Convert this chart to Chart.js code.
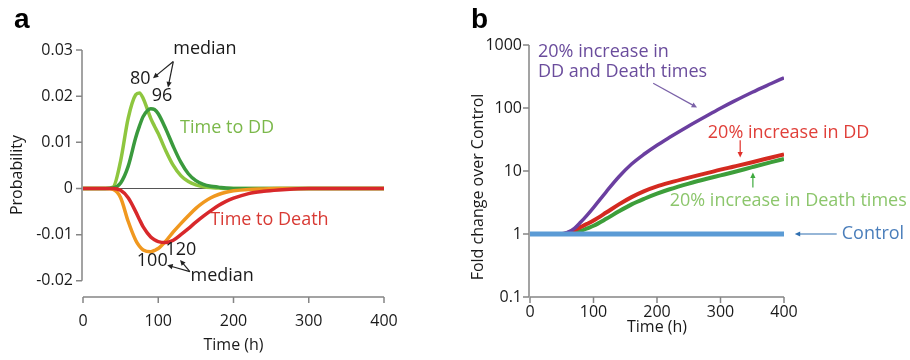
<!DOCTYPE html>
<html>
<head>
<meta charset="utf-8">
<script src="https://cdn.jsdelivr.net/npm/chart.js@4/dist/chart.umd.min.js"></script>
<style>
  body { margin: 0; background: #fff; }
  #wrap { position: relative; width: 910px; height: 360px; }
  canvas { position: absolute; top: 0; }
  #chartA { left: 0; }
  #chartB { left: 455px; }
</style>
</head>
<body>
<div id="wrap">
  <canvas id="chartA" width="455" height="360"></canvas>
  <canvas id="chartB" width="455" height="360"></canvas>
</div>
<script>
// ---- panel a: probability densities ----
const timeA = [0, 20, 30, 40, 50, 60, 70, 75, 80, 90, 95, 100, 110, 120, 130, 140, 150, 160, 170, 180, 190, 200, 220, 240, 260, 280, 300, 350, 400];
const ddControl = [0, 0, 0, 0.0003, 0.006, 0.0152, 0.0203, 0.0207, 0.0195, 0.0152, 0.0135, 0.0119, 0.0082, 0.005, 0.0028, 0.0015, 0.0008, 0.0004, 0.0002, 0.0001, 0, 0, 0, 0, 0, 0, 0, 0, 0];
const ddLonger = [0, 0, 0, 0.0001, 0.0012, 0.0048, 0.011, 0.0135, 0.0156, 0.0173, 0.0171, 0.0162, 0.0129, 0.0091, 0.0057, 0.0032, 0.0017, 0.0009, 0.0005, 0.0003, 0.0001, 0, 0, 0, 0, 0, 0, 0, 0];
const deathControl = [0, 0, 0, -0.0002, -0.002, -0.0071, -0.0112, -0.0125, -0.0133, -0.0137, -0.0134, -0.013, -0.0114, -0.0094, -0.0076, -0.0059, -0.0043, -0.003, -0.002, -0.0013, -0.0008, -0.0005, -0.0002, -0.0001, 0, 0, 0, 0, 0];
const deathLonger = [0, 0, 0, 0, -0.0004, -0.002, -0.005, -0.0067, -0.0083, -0.0105, -0.0111, -0.0115, -0.0117, -0.0112, -0.01, -0.0087, -0.0073, -0.006, -0.0048, -0.0037, -0.0028, -0.0021, -0.0011, -0.0006, -0.0003, -0.0001, 0, 0, 0];
const xTicks = [0, 100, 200, 300, 400];
const yTicksA = [-0.02, -0.01, 0, 0.01, 0.02, 0.03];

// ---- panel b: fold change over control ----
const timeB = [0, 50, 60, 70, 80, 90, 100, 120, 140, 160, 180, 200, 220, 250, 280, 300, 320, 350, 380, 400];
const bothLonger = [1, 1, 1.07, 1.23, 1.55, 2.0, 2.63, 4.68, 8.1, 12.9, 18.6, 25.7, 34.3, 51.9, 76.7, 98.9, 126, 178, 245, 302];
const ddOnly = [1, 1, 1.05, 1.15, 1.29, 1.45, 1.64, 2.19, 2.95, 3.85, 4.79, 5.69, 6.53, 7.85, 9.33, 10.5, 11.7, 13.8, 16.4, 18.4];
const deathOnly = [1, 1, 1, 1.05, 1.12, 1.23, 1.35, 1.74, 2.29, 2.95, 3.63, 4.37, 5.13, 6.31, 7.59, 8.51, 9.55, 11.5, 13.8, 15.5];
const control = [1, 1, 1, 1, 1, 1, 1, 1, 1, 1, 1, 1, 1, 1, 1, 1, 1, 1, 1, 1];
const yTicksB = [0.1, 1, 10, 100, 1000];

const FONT = '"Open Sans", sans-serif';
Chart.defaults.font.family = FONT;
Chart.defaults.color = '#1a1a1a';

const pts = (xs, ys) => xs.map((x, i) => ({ x: x, y: ys[i] }));

function drawArrow(ctx, x1, y1, x2, y2, color) {
    const a = Math.atan2(y2 - y1, x2 - x1);
    const h = 6;
    ctx.strokeStyle = color;
    ctx.fillStyle = color;
    ctx.lineWidth = 1.2;
    ctx.beginPath();
    ctx.moveTo(x1, y1);
    ctx.lineTo(x2 - Math.cos(a) * h * 0.8, y2 - Math.sin(a) * h * 0.8);
    ctx.stroke();
    ctx.beginPath();
    ctx.moveTo(x2, y2);
    ctx.lineTo(x2 - h * Math.cos(a - 0.45), y2 - h * Math.sin(a - 0.45));
    ctx.lineTo(x2 - h * Math.cos(a + 0.45), y2 - h * Math.sin(a + 0.45));
    ctx.closePath();
    ctx.fill();
}

// axes drawn detached, plus titles and annotations
const decor = {
    id: 'decor',
    beforeDatasetsDraw(chart, args, o) {
        const ctx = chart.ctx, xs = chart.scales.x, ys = chart.scales.y;
        const area = chart.chartArea;
        ctx.save();
        ctx.strokeStyle = '#858585';
        ctx.lineWidth = 1.5;
        // y axis
        const lx = area.left - 1;
        const yt = o.yTicks;
        ctx.beginPath();
        ctx.moveTo(lx, ys.getPixelForValue(yt[0]));
        ctx.lineTo(lx, ys.getPixelForValue(yt[yt.length - 1]));
        yt.forEach(v => {
            const py = ys.getPixelForValue(v);
            ctx.moveTo(lx - 6, py);
            ctx.lineTo(lx, py);
        });
        ctx.stroke();
        // x axis
        const by = area.bottom;
        ctx.beginPath();
        ctx.moveTo(xs.getPixelForValue(xTicks[0]), by);
        ctx.lineTo(xs.getPixelForValue(xTicks[xTicks.length - 1]), by);
        xTicks.forEach(v => {
            const px = xs.getPixelForValue(v);
            ctx.moveTo(px, by);
            ctx.lineTo(px, by + 6);
        });
        ctx.stroke();
        if (o.zeroLine) {
            ctx.strokeStyle = '#555';
            ctx.lineWidth = 1;
            ctx.beginPath();
            ctx.moveTo(xs.getPixelForValue(0), ys.getPixelForValue(0));
            ctx.lineTo(xs.getPixelForValue(400), ys.getPixelForValue(0));
            ctx.stroke();
        }
        ctx.restore();
    },
    afterDraw(chart, args, o) {
        const ctx = chart.ctx, xs = chart.scales.x, ys = chart.scales.y;
        ctx.save();
        // panel letter
        ctx.fillStyle = '#000';
        ctx.font = 'bold 28px "Liberation Sans", Arial, sans-serif';
        ctx.textBaseline = 'alphabetic';
        ctx.textAlign = 'left';
        ctx.fillText(o.letter, o.letterX, 28);
        // axis titles
        ctx.fillStyle = '#1a1a1a';
        ctx.font = '16px ' + FONT;
        ctx.textAlign = 'center';
        ctx.textBaseline = 'middle';
        ctx.fillText('Time (h)', (xs.getPixelForValue(0) + xs.getPixelForValue(400)) / 2, o.xTitleY);
        ctx.save();
        ctx.translate(o.yTitleX, o.yTitleY);
        ctx.rotate(-Math.PI / 2);
        ctx.fillText(o.yTitle, 0, 0);
        ctx.restore();
        // annotations
        o.texts.forEach(t => {
            ctx.fillStyle = t.color;
            ctx.font = '18px ' + FONT;
            ctx.textAlign = t.align || 'left';
            ctx.fillText(t.text, xs.getPixelForValue(t.x), ys.getPixelForValue(t.y));
        });
        o.arrows.forEach(a => {
            drawArrow(ctx, xs.getPixelForValue(a.x1), ys.getPixelForValue(a.y1),
                xs.getPixelForValue(a.x2), ys.getPixelForValue(a.y2), a.color);
        });
        ctx.restore();
    }
};

const lineDs = (label, data, color, width) => ({
    label: label,
    data: data,
    borderColor: color,
    borderWidth: width,
    pointRadius: 0,
    fill: false,
    cubicInterpolationMode: 'monotone'
});

// fixed axis box sizes so the plot area lands where the original has it
const axis = (ticksArr, pad, size, extra, cb) => Object.assign({
    grid: { display: false, drawTicks: false },
    border: { display: false },
    afterBuildTicks: s => { s.ticks = ticksArr.map(v => ({ value: v })); },
    afterFit: s => { if (s.isHorizontal()) s.height = size; else s.width = size; },
    ticks: { padding: pad, color: '#1a1a1a', font: { size: 16 }, autoSkip: false, maxRotation: 0, callback: cb }
}, extra);

new Chart(document.getElementById('chartA'), {
    type: 'line',
    data: {
        datasets: [
            lineDs('Time to Death (longer)', pts(timeA, deathLonger), '#d8282b', 3.5),
            lineDs('Time to Death', pts(timeA, deathControl), '#f0981f', 3.5),
            lineDs('Time to DD (longer)', pts(timeA, ddLonger), '#3a9a3d', 3.5),
            lineDs('Time to DD', pts(timeA, ddControl), '#8ec63f', 3.5)
        ]
    },
    options: {
        responsive: false,
        animation: false,
        events: [],
        layout: { padding: { left: 0, right: 71, top: 50, bottom: 0 } },
        plugins: {
            legend: { display: false },
            tooltip: { enabled: false },
            decor: {
                letter: 'a', letterX: 14,
                yTicks: yTicksA, zeroLine: true,
                xTitleY: 345, yTitle: 'Probability', yTitleX: 17, yTitleY: 175,
                texts: [
                    { text: 'median', x: 162, y: 0.0302, color: '#1a1a1a', align: 'center' },
                    { text: '80', x: 76, y: 0.0237, color: '#1a1a1a', align: 'center' },
                    { text: '96', x: 105, y: 0.0200, color: '#1a1a1a', align: 'center' },
                    { text: 'Time to DD', x: 129, y: 0.0131, color: '#7bb84a' },
                    { text: 'Time to Death', x: 169, y: -0.0068, color: '#d83a34' },
                    { text: '120', x: 130, y: -0.0133, color: '#1a1a1a', align: 'center' },
                    { text: '100', x: 92, y: -0.0157, color: '#1a1a1a', align: 'center' },
                    { text: 'median', x: 185, y: -0.0189, color: '#1a1a1a', align: 'center' }
                ],
                arrows: [
                    { x1: 120, y1: 0.0275, x2: 93, y2: 0.0239, color: '#222' },
                    { x1: 120, y1: 0.0275, x2: 113, y2: 0.0219, color: '#222' },
                    { x1: 142, y1: -0.0180, x2: 112, y2: -0.0166, color: '#222' },
                    { x1: 142, y1: -0.0180, x2: 129, y2: -0.0155, color: '#222' }
                ]
            }
        },
        scales: {
            x: axis(xTicks, 15, 63, { type: 'linear', min: 0, max: 400 }),
            y: axis(yTicksA, 10, 83, { type: 'linear', min: -0.0235, max: 0.03 },
                v => v === 0 ? '0' : v.toFixed(2))
        }
    },
    plugins: [decor]
});

new Chart(document.getElementById('chartB'), {
    type: 'line',
    data: {
        datasets: [
            lineDs('Control', pts(timeB, control), '#5b9bd5', 5),
            lineDs('20% increase in DD and Death times', pts(timeB, bothLonger), '#6b3fa0', 3.5),
            lineDs('20% increase in DD', pts(timeB, ddOnly), '#d42a20', 4),
            lineDs('20% increase in Death times', pts(timeB, deathOnly), '#3d9e3a', 4)
        ]
    },
    options: {
        responsive: false,
        animation: false,
        events: [],
        layout: { padding: { left: 0, right: 126, top: 45, bottom: 0 } },
        plugins: {
            legend: { display: false },
            tooltip: { enabled: false },
            decor: {
                letter: 'b', letterX: 16,
                yTicks: yTicksB, zeroLine: false,
                xTitleY: 327, yTitle: 'Fold change over Control', yTitleX: 23, yTitleY: 187,
                texts: [
                    { text: '20% increase in', x: 12.6, y: 771, color: '#6a4c9c' },
                    { text: 'DD and Death times', x: 12.6, y: 370, color: '#6a4c9c' },
                    { text: '20% increase in DD', x: 280, y: 41, color: '#e0403a' },
                    { text: '20% increase in Death times', x: 220, y: 3.39, color: '#8cc66c' },
                    { text: 'Control', x: 491, y: 1, color: '#4a7ebb' }
                ],
                arrows: [
                    { x1: 194, y1: 247, x2: 263, y2: 102, color: '#7b62a8' },
                    { x1: 331, y1: 30.7, x2: 331, y2: 16.4, color: '#e0302a' },
                    { x1: 351, y1: 5.46, x2: 351, y2: 9.46, color: '#3eaa3e' },
                    { x1: 483, y1: 1, x2: 417, y2: 1, color: '#2f6fb0' }
                ]
            }
        },
        scales: {
            x: axis(xTicks, 6, 63, { type: 'linear', min: 0, max: 400 }),
            y: axis(yTicksB, 8, 75, { type: 'logarithmic', min: 0.1, max: 1000 }, v => String(v))
        }
    },
    plugins: [decor]
});
</script>
</body>
</html>
